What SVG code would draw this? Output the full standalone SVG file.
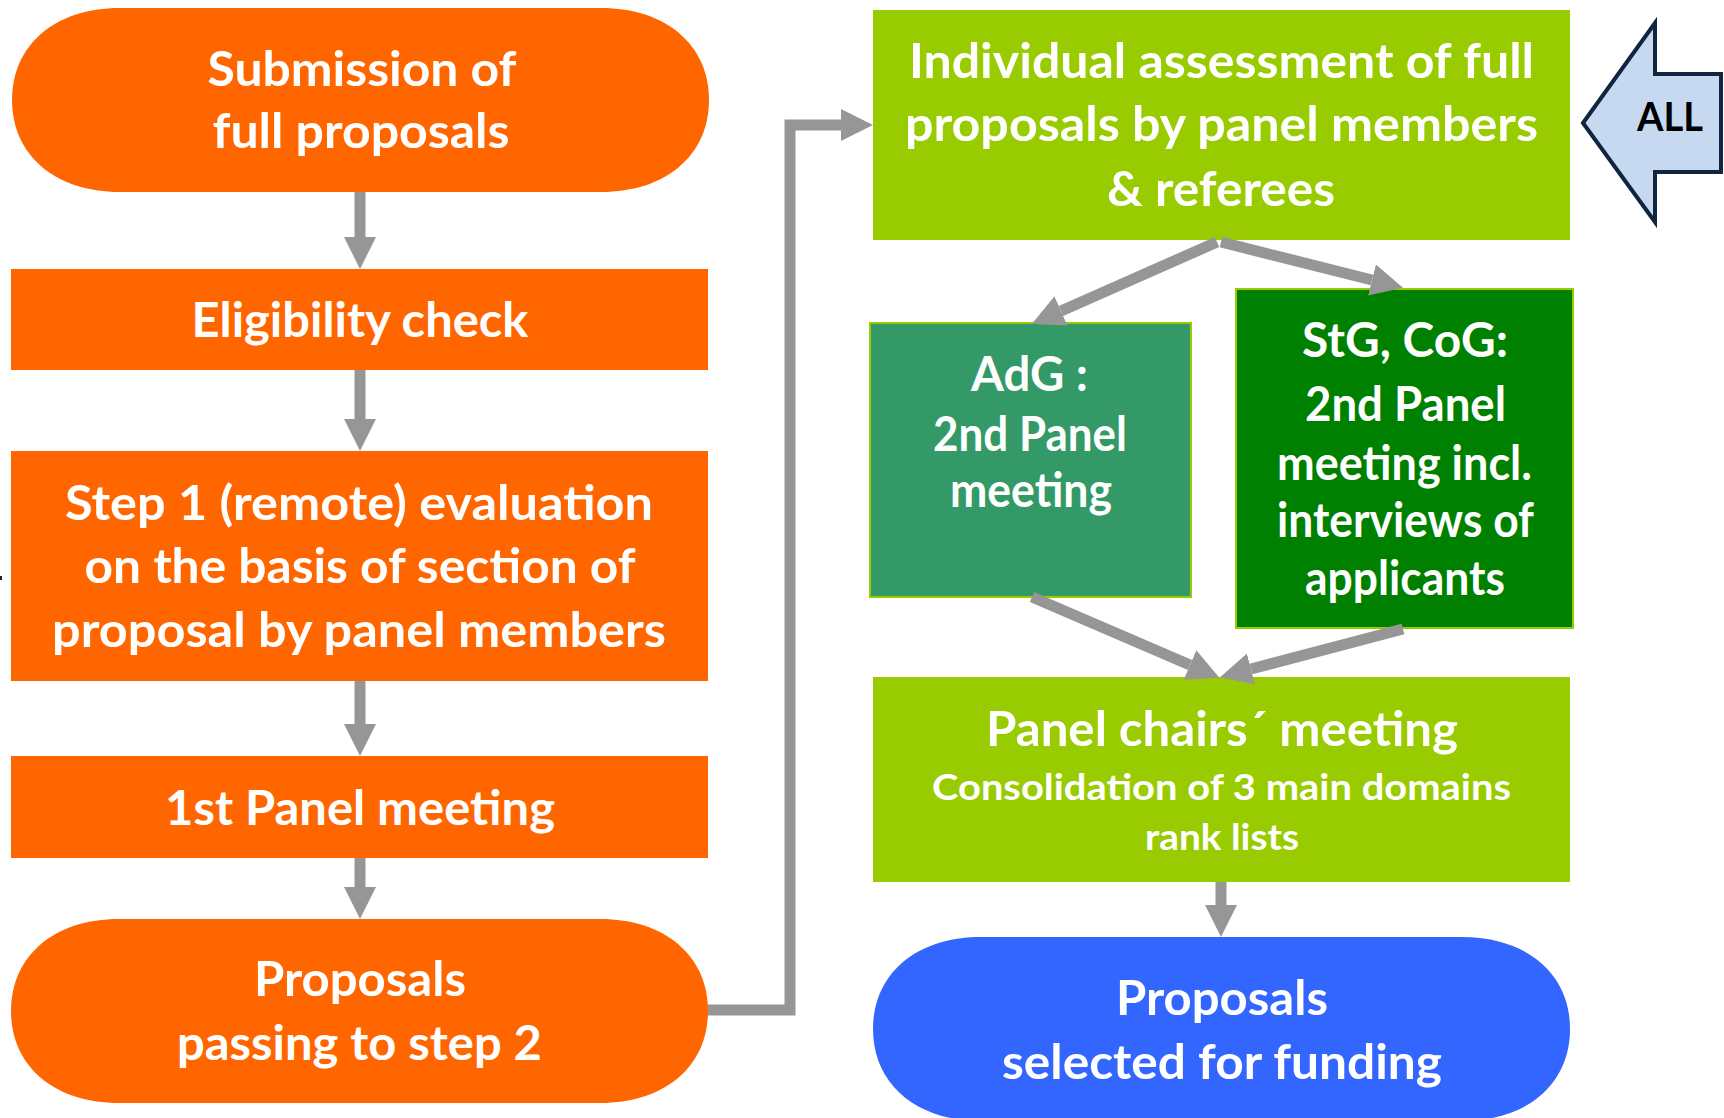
<svg xmlns="http://www.w3.org/2000/svg" width="1724" height="1118" viewBox="0 0 1724 1118">
<style>
  .t { font-family: Lato, "Open Sans", "Liberation Sans", sans-serif; font-weight: bold; fill: #ffffff; text-anchor: middle; }
  .m { font-size: 47px; }
  .s { font-size: 37px; }
  .orange { fill: #ff6600; }
  .lime { fill: #99cc00; }
  .conn { fill: none; stroke: #969696; stroke-width: 11; stroke-linejoin: miter; marker-end: url(#ah); }
</style>
<defs>
  <marker id="ah" markerUnits="userSpaceOnUse" markerWidth="32" markerHeight="32" viewBox="0 0 32 32" refX="0" refY="16" orient="auto">
    <path d="M0,0 L32,16 L0,32 Z" fill="#969696"/>
  </marker>
</defs>
<rect width="1724" height="1118" fill="#ffffff"/>

<g id="submission">
  <path class="orange" d="M120,8 H601 C665.8,8 709,44.8 709,100 C709,155.2 665.8,192 601,192 H120 C55.2,192 12,155.2 12,100 C12,44.8 55.2,8 120,8 Z"/>
  <text class="t m" x="362" y="86" textLength="309" lengthAdjust="spacingAndGlyphs">Submission of</text>
  <text class="t m" x="361" y="148" textLength="297" lengthAdjust="spacingAndGlyphs">full proposals</text>
</g>

<g id="eligibility">
  <rect class="orange" x="11" y="269" width="697" height="101"/>
  <text class="t m" x="360" y="337" textLength="337" lengthAdjust="spacingAndGlyphs">Eligibility check</text>
</g>

<g id="step1">
  <rect class="orange" x="11" y="451" width="697" height="230"/>
  <text class="t m" x="359" y="520" textLength="588" lengthAdjust="spacingAndGlyphs">Step 1 (remote) evaluation</text>
  <text class="t m" x="360" y="583" textLength="551" lengthAdjust="spacingAndGlyphs">on the basis of section of</text>
  <text class="t m" x="359" y="647" textLength="614" lengthAdjust="spacingAndGlyphs">proposal by panel members</text>
</g>

<g id="panel1">
  <rect class="orange" x="11" y="756" width="697" height="102"/>
  <text class="t m" x="360" y="825" textLength="390" lengthAdjust="spacingAndGlyphs">1st Panel meeting</text>
</g>

<g id="passing">
  <path class="orange" d="M119,919 H600 C664.8,919 708,955.8 708,1011 C708,1066.2 664.8,1103 600,1103 H119 C54.2,1103 11,1066.2 11,1011 C11,955.8 54.2,919 119,919 Z"/>
  <text class="t m" x="360" y="996" textLength="212" lengthAdjust="spacingAndGlyphs">Proposals</text>
  <text class="t m" x="359.5" y="1060" textLength="365" lengthAdjust="spacingAndGlyphs">passing to step 2</text>
</g>

<g id="individual">
  <rect class="lime" x="873" y="10" width="697" height="230"/>
  <text class="t m" x="1221.5" y="78" textLength="625" lengthAdjust="spacingAndGlyphs">Individual assessment of full</text>
  <text class="t m" x="1221.5" y="141" textLength="633" lengthAdjust="spacingAndGlyphs">proposals by panel members</text>
  <text class="t m" x="1221" y="206" textLength="228" lengthAdjust="spacingAndGlyphs">&amp; referees</text>
</g>

<g id="all">
  <polygon points="1583,123 1655,23 1655,74 1721,74 1721,172 1655,172 1655,222" fill="#c6d9f0" stroke="#10253f" stroke-width="4" stroke-linejoin="miter"/>
  <text x="1670" y="131" font-family="Lato, 'Open Sans', 'Liberation Sans', sans-serif" font-weight="bold" font-size="40" fill="#000000" text-anchor="middle" textLength="66" lengthAdjust="spacingAndGlyphs">ALL</text>
</g>

<g id="adg">
  <rect x="870" y="323" width="321" height="274" fill="#339966" stroke="#99cc00" stroke-width="2"/>
  <text class="t m" x="1029.5" y="391" textLength="117" lengthAdjust="spacingAndGlyphs">AdG :</text>
  <text class="t m" x="1030" y="451" textLength="194" lengthAdjust="spacingAndGlyphs">2nd Panel</text>
  <text class="t m" x="1031" y="507" textLength="162" lengthAdjust="spacingAndGlyphs">meeting</text>
</g>

<g id="stg">
  <rect x="1236" y="289" width="337" height="339" fill="#008000" stroke="#99cc00" stroke-width="2"/>
  <text class="t m" x="1405" y="357" textLength="206" lengthAdjust="spacingAndGlyphs">StG, CoG:</text>
  <text class="t m" x="1405.5" y="421" textLength="201" lengthAdjust="spacingAndGlyphs">2nd Panel</text>
  <text class="t m" x="1404.5" y="480" textLength="255" lengthAdjust="spacingAndGlyphs">meeting incl.</text>
  <text class="t m" x="1405.5" y="537" textLength="257" lengthAdjust="spacingAndGlyphs">interviews of</text>
  <text class="t m" x="1405" y="595" textLength="200" lengthAdjust="spacingAndGlyphs">applicants</text>
</g>

<g id="chairs">
  <rect class="lime" x="873" y="677" width="697" height="205"/>
  <text class="t m" x="1222" y="746" textLength="472" lengthAdjust="spacingAndGlyphs">Panel chairs´ meeting</text>
  <text class="t s" x="1221.5" y="800" textLength="579" lengthAdjust="spacingAndGlyphs">Consolidation of 3 main domains</text>
  <text class="t s" x="1222" y="850" textLength="154" lengthAdjust="spacingAndGlyphs">rank lists</text>
</g>

<g id="selected">
  <path fill="#3366ff" d="M981,937 H1462 C1526.8,937 1570,973.8 1570,1029 C1570,1084.2 1526.8,1121 1462,1121 H981 C916.2,1121 873,1084.2 873,1029 C873,973.8 916.2,937 981,937 Z"/>
  <text class="t m" x="1222" y="1015" textLength="212" lengthAdjust="spacingAndGlyphs">Proposals</text>
  <text class="t m" x="1222" y="1079" textLength="440" lengthAdjust="spacingAndGlyphs">selected for funding</text>
</g>

<g id="connectors">
  <path class="conn" d="M360,192 V237"/>
  <path class="conn" d="M360,370 V419"/>
  <path class="conn" d="M360,681 V724"/>
  <path class="conn" d="M360,858 V887"/>
  <path class="conn" d="M708,1010 H790 V125 H841"/>
  <path class="conn" d="M1217,242 L1061,311"/>
  <path class="conn" d="M1221,242 L1372,280"/>
  <path class="conn" d="M1032,597 L1190,665"/>
  <path class="conn" d="M1403,629 L1251,669"/>
  <path class="conn" d="M1221,882 V905"/>
</g>

<rect x="0" y="576" width="2" height="4" fill="#10253f"/>
</svg>
